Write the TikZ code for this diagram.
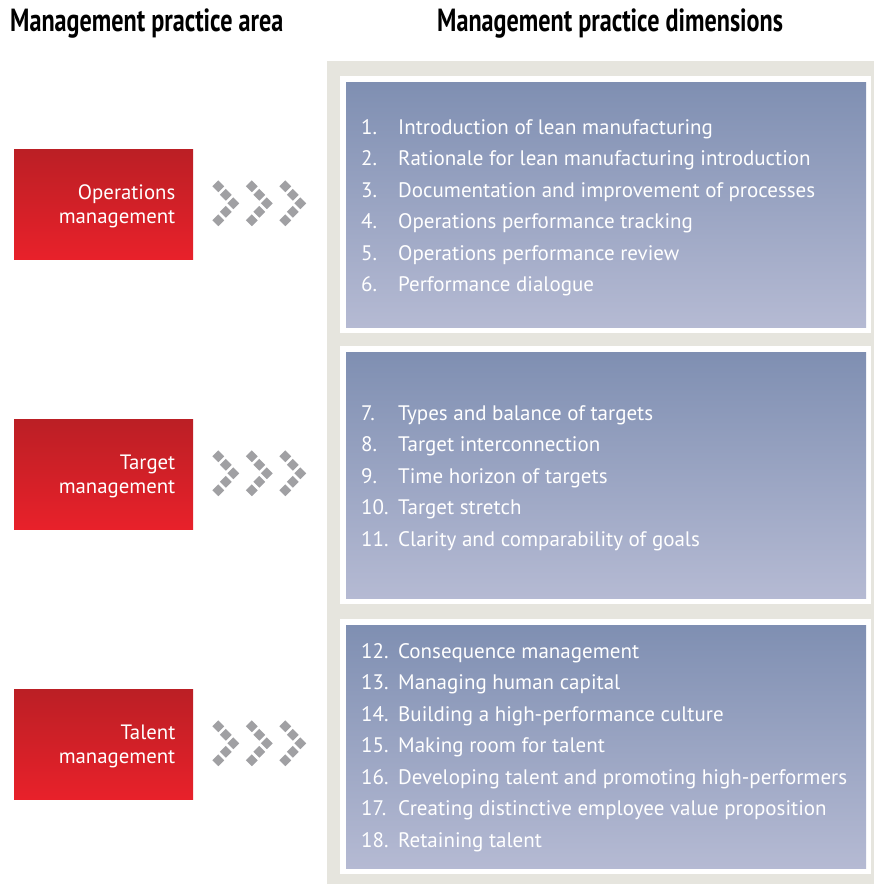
\documentclass[tikz,border=0pt]{standalone}
\usepackage{fontspec}
\setmainfont{PT Sans}
\newfontfamily\headfont[FakeStretch=0.755]{PT Sans}
\definecolor{redtop}{RGB}{187,31,37}
\definecolor{redbottom}{RGB}{232,33,42}
\definecolor{bluetop}{RGB}{127,143,178}
\definecolor{bluebottom}{RGB}{181,186,211}
\definecolor{panelgray}{RGB}{230,229,222}
\definecolor{dotgray}{RGB}{160,160,163}
\tikzset{
  headline/.style={font=\headfont\bfseries\fontsize{32}{36}\selectfont, anchor=base west, inner sep=0pt},
  areabox/.style={minimum width=179pt, minimum height=110pt, inner sep=0pt, top color=redtop, bottom color=redbottom},
  arealabel/.style={anchor=east, align=right, inner sep=0pt, text=white, font=\fontsize{20.8}{24}\selectfont},
  itemnum/.style={anchor=base west, inner sep=0pt, text=white, font=\fontsize{21}{24}\selectfont},
  itemtext/.style={itemnum}
}

\begin{document}
\begin{tikzpicture}[x=1pt, y=-1pt]
  \useasboundingbox (0,0) rectangle (874,884);
  % Headers
  \node[headline] (harea) at (10,31.7) {Management practice area};
  \node[headline] (hdim) at (437,31.7) {Management practice dimensions};
  % Background panel
  \fill[panelgray] (327,61) rectangle (874,884);
  \foreach \ya/\yb in {76/333, 346/604, 619/874} {
    \fill[white] (340,\ya) rectangle (871,\yb);
    \shade[top color=bluetop, bottom color=bluebottom] (346,\ya+6) rectangle (866,\yb-6);
  }
  % Practice areas with chevrons
  \foreach \yc/\nm/\first in {204/ops/Operations, 474/tgt/Target, 744/tal/Talent} {
    \node[areabox] (\nm) at (103.5,\yc) {};
    \node[arealabel] (\nm-lbl) at (175.5,\yc+2.5) {\first\\management};
    \foreach \k in {0,1,2}
      \foreach \dx/\dy in {0/-17, 7.5/-8.5, 15/0, 7.5/8.5, 0/17}
        \fill[dotgray] ({218.3+33.5*\k+\dx},{\yc+\dy-0.7}) ++(0,-5.9) -- ++(5.9,5.9) -- ++(-5.9,5.9) -- ++(-5.9,-5.9) -- cycle;
  }
  % Dimensions
  \foreach \txt [count=\i] in {Introduction of lean manufacturing, Rationale for lean manufacturing introduction, Documentation and improvement of processes, Operations performance tracking, Operations performance review, Performance dialogue} {
    \node[itemnum] (n\i) at (361,{134.3+31.5*(\i-1)}) {\i.};
    \node[itemtext] (d\i) at (398,{134.3+31.5*(\i-1)}) {\txt};
  }
  \foreach \txt [count=\i from 7] in {Types and balance of targets, Target interconnection, Time horizon of targets, Target stretch, Clarity and comparability of goals} {
    \node[itemnum] (n\i) at (361,{420+31.5*(\i-7)}) {\i.};
    \node[itemtext] (d\i) at (398,{420+31.5*(\i-7)}) {\txt};
  }
  \foreach \txt [count=\i from 12] in {Consequence management, Managing human capital, Building a high-performance culture, Making room for talent, Developing talent and promoting high-performers, Creating distinctive employee value proposition, Retaining talent} {
    \node[itemnum] (n\i) at (361,{658+31.5*(\i-12)}) {\i.};
    \node[itemtext] (d\i) at (398,{658+31.5*(\i-12)}) {\txt};
  }
\end{tikzpicture}
\end{document}
